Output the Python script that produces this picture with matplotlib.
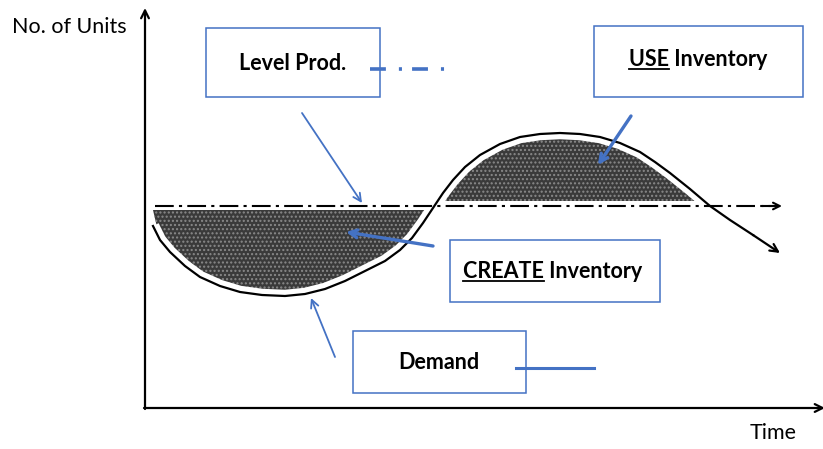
import numpy as np
import matplotlib.pyplot as plt
from matplotlib.patches import Rectangle

plt.rcParams['font.family'] = ['Lato', 'DejaVu Sans']

# demand curve (time, units)
time = [8, 15, 25, 40, 55, 75, 95, 117, 140, 160, 180, 200, 220, 240, 255, 267,
        278, 288, 298, 308, 320, 335, 355, 375, 395, 415, 435, 455, 475, 495,
        510, 525, 545, 565, 585, 608, 635]
demand = [182, 168, 156, 142, 131, 122, 116, 113, 112, 114, 119, 127, 137, 147,
          158, 170, 185, 200, 215, 228, 241, 253, 264, 271, 274, 275, 274, 271,
          265, 256, 246, 235, 219, 202, 188, 173, 155]
level = 202          # level production rate
level_start, level_end = 10, 637
create_top = 198     # top edge of CREATE inventory shading
use_bottom = 207     # bottom edge of USE inventory shading

blue = '#4472C4'
t = np.array(time)
d = np.array(demand)

fig = plt.figure(figsize=(8.23, 4.49), dpi=100)
ax = fig.add_axes([0, 0, 1, 1])
ax.set_xlim(-145, 678)
ax.set_ylim(-41, 408)
ax.axis('off')

# shaded inventory areas
ax.fill_between(t, create_top, d, where=(d < create_top) & (t > 10) & (t < 320),
                interpolate=True, facecolor='#3a3a3a', edgecolor='#8a8a8a',
                hatch='....', lw=0, zorder=1)
ax.fill_between(t, use_bottom, d, where=d > use_bottom, interpolate=True,
                facecolor='#3a3a3a', edgecolor='#8a8a8a', hatch='....', lw=0, zorder=1)

# demand curve with white halo
ax.plot(t, d, color='white', lw=9, solid_capstyle='butt', zorder=2)
ax.plot(t[:-1], d[:-1], color='black', lw=1.6, zorder=3)
ax.annotate('', xy=(t[-1], d[-1]), xytext=(t[-2], d[-2]),
            arrowprops=dict(arrowstyle='->', color='black', lw=1.6,
                            mutation_scale=14, shrinkA=0, shrinkB=0), zorder=3)

# level production line
ax.plot([level_start, level_end - 8], [level, level], color='black', lw=1.5,
        ls=(0, (9, 2.5, 1.5, 2.5)), zorder=2.5)
ax.annotate('', xy=(level_end, level), xytext=(level_end - 20, level),
            arrowprops=dict(arrowstyle='->', color='black', lw=1.5,
                            mutation_scale=12, shrinkA=0, shrinkB=0), zorder=3)

# axes
ax.annotate('', xy=(0, 400), xytext=(0, -1),
            arrowprops=dict(arrowstyle='->', color='black', lw=1.6,
                            mutation_scale=14, shrinkA=0, shrinkB=0))
ax.annotate('', xy=(680, 0), xytext=(-1, 0),
            arrowprops=dict(arrowstyle='->', color='black', lw=1.6,
                            mutation_scale=14, shrinkA=0, shrinkB=0),
            annotation_clip=False)
ax.text(-18, 375, 'No. of Units', ha='right', va='baseline', fontsize=15.5)
ax.text(628, -31, 'Time', ha='center', va='baseline', fontsize=15.5)

# label boxes
fs = 15.5
fig.canvas.draw()
def label(x0, y0, w, h, cx, base, under, rest):
    ax.add_patch(Rectangle((x0, y0), w, h, fill=False, ec=blue, lw=1.1, zorder=5))
    txt = ax.text(cx, base, under + rest, ha='center', va='baseline',
                  fontsize=fs, fontweight='bold', zorder=6)
    if under:
        fig.canvas.draw()
        bb = txt.get_window_extent()
        tmp = ax.text(0, 0, under, fontsize=fs, fontweight='bold')
        uw = tmp.get_window_extent().width
        tmp.remove()
        inv = ax.transData.inverted()
        xa, _ = inv.transform((bb.x0, 0))
        xb, _ = inv.transform((bb.x0 + uw, 0))
        ax.plot([xa, xb], [base - 3, base - 3], color='black', lw=1.3, zorder=6)

label(61, 311, 174, 69, 148, 338, '', 'Level Prod.')
label(449, 311, 209, 71, 553, 342, 'USE', ' Inventory')
label(305, 106, 210, 62, 408, 130, 'CREATE', ' Inventory')
label(208, 15, 173, 62, 294, 39, '', 'Demand')

# legend-like line samples
ax.plot([225, 300], [339, 339], color=blue, lw=2.6, ls=(0, (4.4, 3.6, 0.85, 2.8)), zorder=6)
ax.plot([371, 449], [40, 40], color=blue, lw=2.2, zorder=6)

# pointer arrows
def pointer(tail, head, lw):
    ax.annotate('', xy=head, xytext=tail,
                arrowprops=dict(arrowstyle='->', color=blue, lw=lw,
                                mutation_scale=14, shrinkA=0, shrinkB=0), zorder=7)

pointer((157, 295), (217, 205), 1.3)
pointer((486, 292), (453, 243), 2.4)
pointer((288, 162), (201, 176), 2.4)
pointer((190, 51), (166, 110), 1.3)

fig.savefig('out.png', dpi=100)
